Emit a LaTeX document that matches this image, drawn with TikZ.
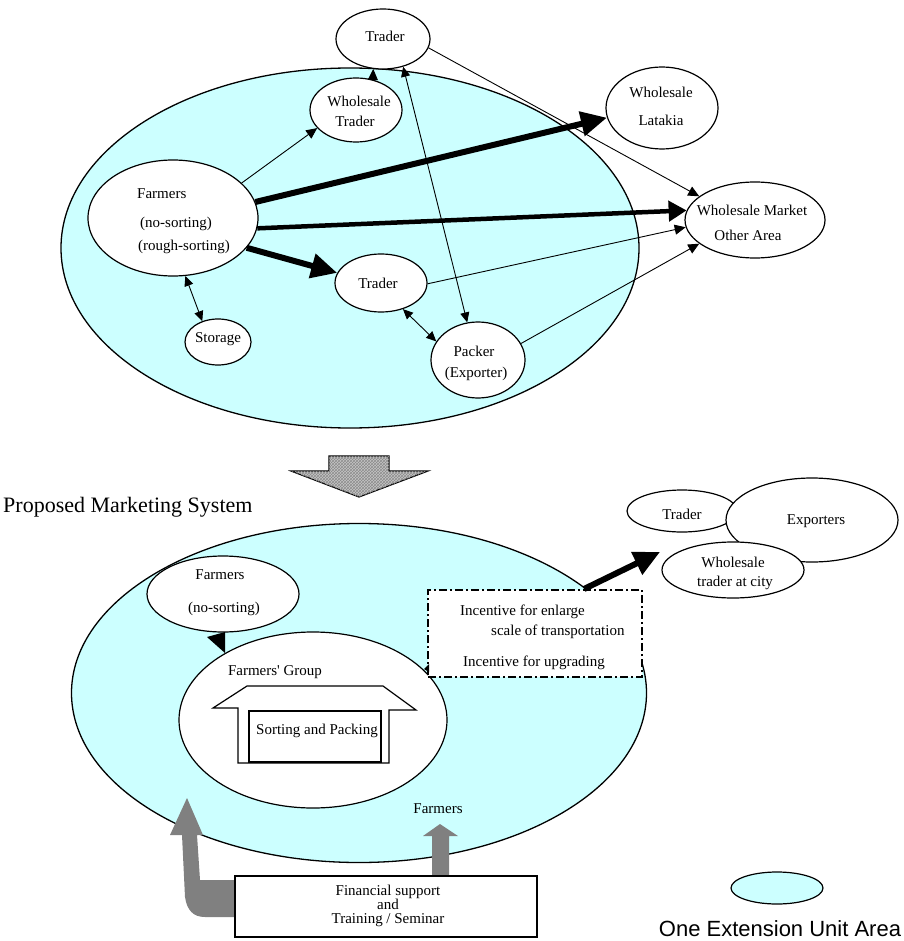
\documentclass[tikz,border=0pt]{standalone}
\usepackage{fontspec}
\setmainfont{Liberation Serif}
\newfontfamily\legendfont{Liberation Sans}
\usetikzlibrary{shapes.geometric,arrows.meta,patterns}
\definecolor{areacyan}{HTML}{CCFFFF}
\definecolor{arrgray}{HTML}{808080}
\begin{document}
\begin{tikzpicture}[x=1pt,y=-1pt,
  area/.style={ellipse,draw=black,line width=1.3pt,fill=areacyan,inner sep=0pt},
  ell/.style={ellipse,draw=black,line width=1.2pt,fill=white,inner sep=0pt},
  txt/.style={inner sep=0pt,font=\fontsize{15}{17}\selectfont},
  thinarr/.style={line width=0.9pt,-{Triangle[length=11pt,width=10pt]}},
  dblarr/.style={line width=0.9pt,{Triangle[length=10pt,width=9pt]}-{Triangle[length=10pt,width=9pt]}},
  bigarr/.style={line width=6pt,-{Triangle[length=26pt,width=24pt]}},
]
\useasboundingbox (0,0) rectangle (903,941);

% ---------- current system ----------
\node[area,minimum width=578pt,minimum height=360pt] (areaTop) at (350,248) {};

\node[ell,minimum width=94pt,minimum height=60pt] (trTop) at (383,39) {};
\node[ell,minimum width=92pt,minimum height=64pt] (wt) at (356,110) {};
\node[ell,minimum width=170pt,minimum height=116pt] (farm) at (173,218) {};
\node[ell,minimum width=66pt,minimum height=46pt] (stor) at (218,342) {};
\node[ell,minimum width=92pt,minimum height=58pt] (trMid) at (381,283) {};
\node[ell,minimum width=94pt,minimum height=76pt] (pack) at (478,360) {};
\node[ell,minimum width=112pt,minimum height=82pt] (lat) at (662,108) {};
\node[ell,minimum width=140pt,minimum height=76pt] (wm) at (755,220) {};

\draw[thinarr] (farm.27) -- (wt.205);
\draw[thinarr] (wt.61) -- (trTop.-108);
\draw[dblarr] (trTop.-54) -- (pack.106);
\draw[thinarr] (trTop.-11) -- (wm.157);
\draw[bigarr] (farm.11) -- (lat.190);
\draw[line width=4.5pt,-{Triangle[length=18pt,width=20pt]}] (farm.-7) -- (wm.172);
\draw[bigarr] (farm.-22) -- (trMid.167);
\draw[dblarr] (farm.-78) -- (stor.127);
\draw[thinarr] (trMid.-1) -- (wm.186);
\draw[dblarr] (trMid.-50) -- (pack.156);
\draw[thinarr] (pack.21) -- (wm.203);

\node[txt] (trTopT) at (385,36) {Trader};
\node[txt] (wtT1) at (359,101) {Wholesale};
\node[txt] (wtT2) at (355,121) {Trader};
\node[txt,anchor=west] (farmT1) at (137,194) {Farmers};
\node[txt,anchor=west] (farmT2) at (140,224) {(no-sorting)};
\node[txt,anchor=west] (farmT3) at (138,247) {(rough-sorting)};
\node[txt] (storT) at (218,339) {Storage};
\node[txt] (trMidT) at (378,283) {Trader};
\node[txt] (packT1) at (474,351) {Packer};
\node[txt] (packT2) at (476,374) {(Exporter)};
\node[txt] (latT1) at (661,92) {Wholesale};
\node[txt] (latT2) at (661,120) {Latakia};
\node[txt] (wmT1) at (752,210) {Wholesale Market};
\node[txt] (wmT2) at (748,235) {Other Area};

% ---------- transition arrow ----------
\draw[line width=1.2pt,fill=gray!45,postaction={pattern=crosshatch,pattern color=gray!90}]
  (329,456) -- (389,456) -- (389,471) -- (428,471) -- (359,497) -- (291,471) -- (329,471) -- cycle;

\node[anchor=west,inner sep=0pt,font=\fontsize{22}{24}\selectfont] (title) at (3,507) {Proposed Marketing System};

% ---------- proposed system ----------
\node[area,minimum width=575pt,minimum height=339pt] (areaBot) at (359,693) {};
\node[ell,minimum width=152pt,minimum height=76pt] (farm2) at (223,594) {};
\node[ell,minimum width=268pt,minimum height=176pt] (fg) at (313,720) {};
\fill (225,632) -- (225,653) -- (207,637) -- cycle;

\draw[line width=1.2pt,fill=white] (213,708) -- (247,686) -- (383,686) -- (416,710) -- (389,710) -- (389,763) -- (238,763) -- (238,708) -- cycle;
\node[draw,line width=1.5pt,fill=white,minimum width=132pt,minimum height=51pt,inner sep=0pt] (sp) at (315,736.5) {};

\node[draw,line width=2pt,dash pattern=on 8pt off 3pt on 2pt off 3pt,fill=white,minimum width=214pt,minimum height=87pt,inner sep=0pt] (inc) at (535,633.5) {};
\fill (429,664) -- (429,672) -- (424,669) -- cycle;

\node[ell,minimum width=110pt,minimum height=42pt] (tr3) at (682,511) {};
\node[ell,minimum width=172pt,minimum height=84pt] (exp) at (812,520) {};
\node[ell,minimum width=142pt,minimum height=56pt] (wtc) at (733,570) {};
\coordinate (tipW) at (660,552);
\draw[bigarr] ([xshift=-59pt]inc.north east) -- (tipW);

\node[txt] (farm2T1) at (220,575) {Farmers};
\node[txt] (farm2T2) at (224,609) {(no-sorting)};
\node[txt] (fgT) at (275,672) {Farmers\textquotesingle{} Group};
\node[txt] (spT) at (317,731) {Sorting and Packing};
\node[txt,anchor=west] (incT1) at (460,612) {Incentive for enlarge};
\node[txt,anchor=west] (incT2) at (491,632) {scale of transportation};
\node[txt,anchor=west] (incT3) at (463,663) {Incentive for upgrading};
\node[txt] (tr3T) at (682,514) {Trader};
\node[txt] (expT) at (816,521) {Exporters};
\node[txt] (wtcT1) at (733,562) {Wholesale};
\node[txt] (wtcT2) at (735,583) {trader at city};

% ---------- support ----------
\fill[arrgray] (235,880) -- (200,880) -- (197,835) -- (203,835) -- (187,798) -- (170,835) -- (182,835) -- (185,897) .. controls (187,910) and (193,917) .. (205,917) -- (235,917) -- cycle;
\fill[arrgray] (432,876) -- (432,836) -- (423,836) -- (440,824) -- (458,836) -- (449,836) -- (449,876) -- cycle;
\node[txt] (farm3T) at (438,809) {Farmers};
\node[draw,line width=1.2pt,fill=white,minimum width=302pt,minimum height=61pt,inner sep=0pt] (fin) at (386,906.5) {};
\node[txt,align=center,font=\fontsize{15}{14}\selectfont] (finT) at (388,906) {Financial support\\and\\Training / Seminar};

% ---------- legend ----------
\node[area,line width=1.2pt,minimum width=92pt,minimum height=32pt] (leg) at (777,888) {};
\node[inner sep=0pt,font=\legendfont\fontsize{22}{24}\selectfont] (legT) at (780,929) {One Extension Unit Area};
\end{tikzpicture}
\end{document}
